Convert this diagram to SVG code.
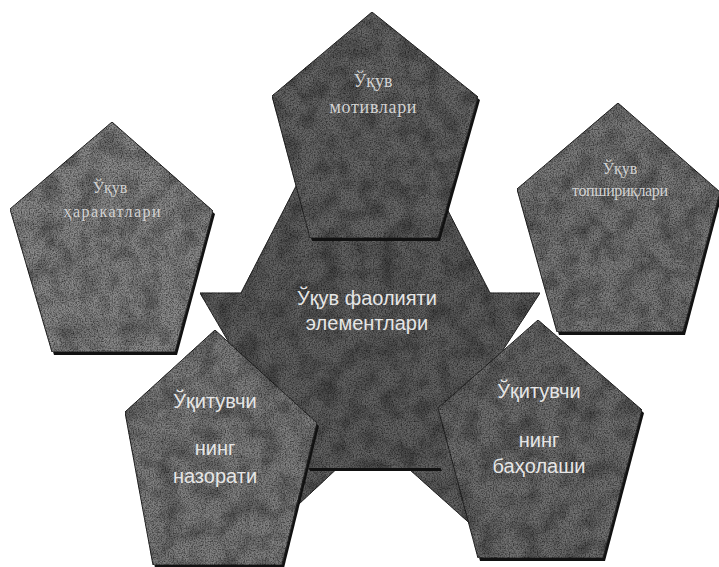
<svg xmlns="http://www.w3.org/2000/svg" width="719" height="567" viewBox="0 0 719 567">
<defs>
<filter id="grain" x="0" y="0" width="1" height="1" color-interpolation-filters="sRGB">
<feTurbulence type="fractalNoise" baseFrequency="0.75" numOctaves="2" seed="4" result="fine"/>
<feColorMatrix in="fine" type="matrix" values="0 0 0 0 0 0 0 0 0 0 0 0 0 0 0 1.2 0 0 0 -0.45" result="fineA"/>
<feTurbulence type="fractalNoise" baseFrequency="0.05" numOctaves="3" seed="9" result="coarse"/>
<feColorMatrix in="coarse" type="matrix" values="0 0 0 0 0 0 0 0 0 0 0 0 0 0 0 0.7 0 0 0 -0.27" result="coarseA"/>
<feMerge result="tex"><feMergeNode in="coarseA"/><feMergeNode in="fineA"/></feMerge>
<feComposite in="tex" in2="SourceGraphic" operator="in" result="texIn"/>
<feMerge><feMergeNode in="SourceGraphic"/><feMergeNode in="texIn"/></feMerge>
</filter>
<style>
.shape{stroke:#2b2b2b;stroke-width:1;filter:url(#grain);stroke-linejoin:round}
.shadow{fill:#111}
.sans{font-family:"Liberation Sans",Arial,sans-serif;font-size:20px;fill:#e6e6e6;text-anchor:middle}
.serif{font-family:"Liberation Serif","Times New Roman",serif;fill:#d2d2d2;text-anchor:middle}
</style>
</defs>
<rect width="719" height="567" fill="#ffffff"/>
<g id="connectors"/>
<g id="node-center">
<polygon class="shape" fill="#626262" points="366,50 490,293 540,293 490,370 494,545 372,436 255,545 245,370 200,293 241,293"/>
<polygon class="shadow" points="308,467 440,467 442,471 310,471"/>
<polygon class="shape" fill="#626262" style="stroke:none" points="374,240 478,327 440,468 308,468 270,327"/>
<text class="sans" x="367" y="305">Ўқув фаолияти</text>
<text class="sans" x="367" y="330">элементлари</text>
</g>
<g id="node-top">
<polygon class="shadow" points="374,15 480,100 440,241 312,241 274,99"/>
<polygon class="shape" fill="#686868" points="372,12 478,97 438,238 310,238 272,96"/>
<text class="serif" font-size="18" x="373" y="87">Ўқув</text>
<text class="serif" font-size="18" x="373" y="113" textLength="87" lengthAdjust="spacing">мотивлари</text>
</g>
<g id="node-left">
<polygon class="shadow" points="114,125 215,214 177,355 54,355 12,212"/>
<polygon class="shape" fill="#8a8a8a" points="112,122 213,211 175,352 52,352 10,209"/>
<text class="serif" font-size="16" x="110" y="193">Ўқув</text>
<text class="serif" font-size="16" x="112" y="217" textLength="97" lengthAdjust="spacing">ҳаракатлари</text>
</g>
<g id="node-right">
<polygon class="shadow" points="620,106 722,195 685,335 559,335 519,192"/>
<polygon class="shape" fill="#7c7c7c" points="618,103 720,192 683,332 557,332 517,189"/>
<text class="serif" font-size="16" x="620" y="174">Ўқув</text>
<text class="serif" font-size="16" x="620" y="196" textLength="96" lengthAdjust="spacing">топшириқлари</text>
</g>
<g id="node-lower-left">
<polygon class="shadow" points="217,333 319,426 284,568 155,568 127,415"/>
<polygon class="shape" fill="#818181" points="215,330 317,423 282,565 153,565 125,412"/>
<text class="sans" x="215" y="408">Ўқитувчи</text>
<text class="sans" x="215" y="455">нинг</text>
<text class="sans" x="215" y="483">назорати</text>
</g>
<g id="node-lower-right">
<polygon class="shadow" points="540,323 644,413 605,561 480,561 440,411"/>
<polygon class="shape" fill="#717171" points="538,320 642,410 603,558 478,558 438,408"/>
<text class="sans" x="539" y="398">Ўқитувчи</text>
<text class="sans" x="539" y="447">нинг</text>
<text class="sans" x="539" y="473">баҳолаши</text>
</g>
</svg>
